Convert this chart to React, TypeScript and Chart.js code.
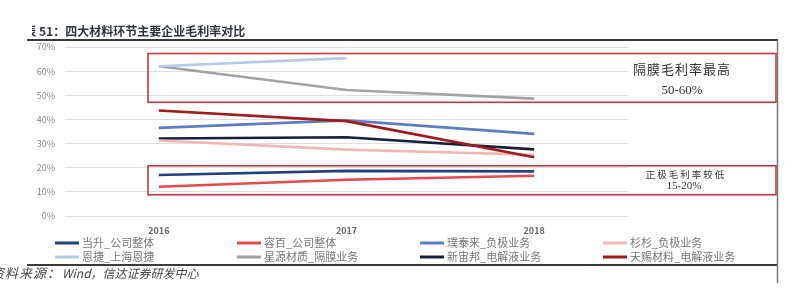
import React, { useEffect, useRef } from "react";
import { Chart, registerables } from "chart.js";

Chart.register(...registerables);

// Gross margin (%) by year for the leading companies in four battery-material segments
const years = ["2016", "2017", "2018"];
const dangsheng = [17.0, 18.7, 18.5];
const rongbai = [12.1, 15.0, 16.7];
const putailai = [36.5, 39.6, 34.0];
const shanshan = [31.3, 27.5, 25.4];
const enjie = [62.0, 65.4, null];
const xingyuan = [62.0, 52.2, 48.6];
const xinzhoubang = [32.1, 32.6, 27.6];
const tianci = [43.7, 39.3, 24.3];

const seriesNames = [
  "当升_公司整体",
  "容百_公司整体",
  "璞泰来_负极业务",
  "杉杉_负极业务",
  "恩捷_上海恩捷",
  "星源材质_隔膜业务",
  "新宙邦_电解液业务",
  "天赐材料_电解液业务",
];
const seriesColors = [
  "#233f80",
  "#e9494c",
  "#5a7ec6",
  "#f5b5b5",
  "#b7c9e6",
  "#a3a3a3",
  "#15203d",
  "#a31818",
];
const seriesData = [dangsheng, rongbai, putailai, shanshan, enjie, xingyuan, xinzhoubang, tianci];

const yTicks = [0, 10, 20, 30, 40, 50, 60, 70];

// Highlight bands (value ranges on the y axis) with their captions
const bandHigh = { from: 47.1, to: 67.3, title: "隔膜毛利率最高", range: "50-60%" };
const bandLow = { from: 8.8, to: 20.8, title: "正极毛利率较低", range: "15-20%" };

const titlePrefix = "图表 ";
const titleText = "51：四大材料环节主要企业毛利率对比";
const sourceLabel = "资料来源：";
const sourceText = "Wind，信达证券研发中心";

const CJK = '"Noto Sans CJK SC", "Noto Sans", sans-serif';
const SERIF = '"Liberation Serif", "DejaVu Serif", serif';

const decorPlugin = {
  id: "decor",
  afterDatasetsDraw(chart: any) {
    const { ctx, scales } = chart;
    const y = scales.y;
    const left = 148;
    const right = 776;
    ctx.save();
    const drawBand = (b: any, big: boolean) => {
      const top = y.getPixelForValue(b.to);
      const bottom = y.getPixelForValue(b.from);
      ctx.strokeStyle = "#c4383b";
      ctx.lineWidth = 1.6;
      ctx.strokeRect(left, top, right - left, bottom - top);
      ctx.fillStyle = "#333";
      ctx.textAlign = "center";
      ctx.textBaseline = "middle";
      const cx = 682;
      if (big) {
        ctx.font = `13px ${CJK}`;
        (ctx as any).letterSpacing = "1px";
        ctx.fillText(b.title, cx, top + 16);
        (ctx as any).letterSpacing = "0px";
        ctx.font = `13px ${SERIF}`;
        ctx.fillText(b.range, cx, top + 37);
      } else {
        ctx.font = `9.5px ${CJK}`;
        (ctx as any).letterSpacing = "2px";
        ctx.fillText(b.title, cx + 4, top + 9);
        (ctx as any).letterSpacing = "0px";
        ctx.font = `11px ${SERIF}`;
        ctx.fillText(b.range, cx + 2, top + 20);
      }
    };
    drawBand(bandHigh, true);
    drawBand(bandLow, false);
    ctx.restore();
  },
  afterDraw(chart: any) {
    const { ctx } = chart;
    ctx.save();
    // title (the left edge of the heading is cut off by the frame)
    ctx.fillStyle = "#2e3440";
    ctx.textAlign = "left";
    ctx.textBaseline = "middle";
    ctx.font = `bold 12px ${CJK}`;
    const prefixW = ctx.measureText(titlePrefix).width;
    ctx.save();
    ctx.beginPath();
    ctx.rect(32, 15, 500, 25);
    ctx.clip();
    ctx.fillText(titlePrefix + titleText, 39 - prefixW, 31);
    ctx.restore();
    // rules
    ctx.strokeStyle = "#3a3a3a";
    ctx.lineWidth = 2;
    ctx.beginPath();
    ctx.moveTo(27, 40);
    ctx.lineTo(778, 40);
    ctx.moveTo(27, 265);
    ctx.lineTo(778, 265);
    ctx.stroke();
    ctx.strokeStyle = "#777";
    ctx.lineWidth = 1.5;
    ctx.beginPath();
    ctx.moveTo(777.5, 40);
    ctx.lineTo(777.5, 283);
    ctx.stroke();
    // legend
    const cols = [55, 237, 420, 603];
    const rows = [243, 257];
    ctx.font = `11px ${CJK}`;
    ctx.textBaseline = "middle";
    seriesNames.forEach((name, i) => {
      const cx = cols[i % 4];
      const cy = rows[Math.floor(i / 4)];
      ctx.strokeStyle = seriesColors[i];
      ctx.lineWidth = 3;
      ctx.beginPath();
      ctx.moveTo(cx, cy);
      ctx.lineTo(cx + 24, cy);
      ctx.stroke();
      ctx.fillStyle = "#777";
      ctx.fillText(name, cx + 27, cy);
    });
    // source line
    ctx.fillStyle = "#444";
    ctx.font = `italic 13px ${CJK}`;
    (ctx as any).letterSpacing = "1px";
    ctx.textAlign = "right";
    ctx.fillText(sourceLabel, 61, 273);
    (ctx as any).letterSpacing = "0px";
    ctx.textAlign = "left";
    ctx.font = `italic 12px ${CJK}`;
    ctx.fillText(sourceText, 62, 273);
    ctx.restore();
  },
};

export default function App() {
  const ref = useRef<HTMLCanvasElement | null>(null);
  useEffect(() => {
    if (!ref.current) return;
    const chart = new Chart(ref.current, {
      type: "line",
      data: {
        labels: years,
        datasets: seriesNames.map((name, i) => ({
          label: name,
          data: seriesData[i],
          borderColor: seriesColors[i],
          backgroundColor: seriesColors[i],
          borderWidth: 2.6,
          pointRadius: 0,
          tension: 0,
          spanGaps: false,
          order: name.startsWith("天赐") ? -1 : i,
        })),
      },
      options: {
        animation: false,
        responsive: true,
        maintainAspectRatio: false,
        layout: { padding: { left: 0, right: 172, top: 47, bottom: 0 } },
        plugins: {
          legend: { display: false },
          tooltip: { enabled: false },
          title: { display: false },
        },
        scales: {
          x: {
            type: "category",
            offset: true,
            grid: { display: false, drawTicks: false },
            border: { display: false },
            ticks: {
              color: "#666",
              font: { family: CJK, size: 9, weight: "bold" },
              padding: 9,
              maxRotation: 0,
            },
            afterFit(scale: any) {
              scale.height = 85;
            },
          },
          y: {
            min: 0,
            max: 70,
            grid: { color: "#dedede", lineWidth: 1, drawTicks: false },
            border: { display: false },
            afterBuildTicks(scale: any) {
              scale.ticks = yTicks.map((v) => ({ value: v }));
            },
            ticks: {
              color: "#888",
              font: { family: CJK, size: 9 },
              padding: 10,
              callback: (v: any) => `${v}%`,
            },
            afterFit(scale: any) {
              scale.width = 65;
            },
          },
        },
      },
      plugins: [decorPlugin],
    });
    return () => chart.destroy();
  }, []);
  return (
    <div style={{ position: "fixed", left: 0, top: 0, width: 800, height: 301, background: "#fff" }}>
      <canvas ref={ref} />
    </div>
  );
}
